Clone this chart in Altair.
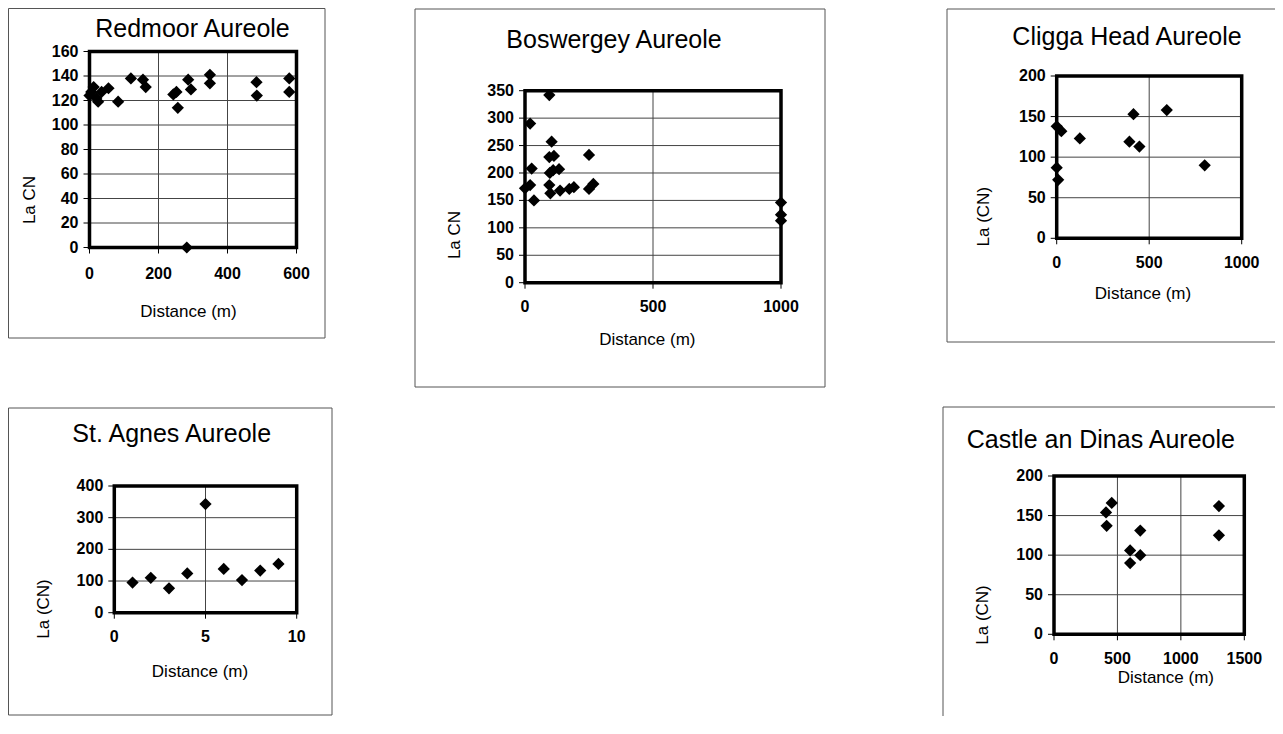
import altair as alt
import pandas as pd

W, H = 1267, 708
FONT = "Liberation Sans"

# ---------------- data ----------------
red_x = [0, 5, 12, 20, 25, 35, 55, 83, 120, 155, 163, 243, 252, 256, 282, 286, 294, 349, 349, 484, 485, 579, 579]
red_y = [124, 127, 131, 122, 119, 127, 130, 119, 138, 137, 131, 125, 127, 114, 0, 137, 129, 141, 134, 135, 124, 138, 127]

bos_x = [0, 20, 95, 20, 26, 35, 104, 95, 113, 97, 110, 133, 95, 99, 137, 173, 191, 250, 250, 267, 1000, 1000, 1000]
bos_y = [172, 178, 342, 290, 208, 150, 257, 229, 231, 200, 205, 207, 178, 163, 168, 171, 174, 233, 171, 180, 146, 124, 113]

cli_x = [0, 25, 125, 0, 8, 415, 393, 447, 595, 800]
cli_y = [138, 132, 123, 87, 72, 153, 119, 113, 158, 90]

sta_x = [1, 2, 3, 4, 5, 6, 7, 8, 9]
sta_y = [95, 110, 77, 124, 343, 138, 103, 133, 154]

cas_x = [410, 455, 415, 680, 600, 680, 600, 1300, 1300]
cas_y = [154, 166, 137, 131, 106, 100, 90, 162, 125]

red_xticks = [0, 200, 400, 600]
red_yticks = [0, 20, 40, 60, 80, 100, 120, 140, 160]
bos_xticks = [0, 500, 1000]
bos_yticks = [0, 50, 100, 150, 200, 250, 300, 350]
cli_xticks = [0, 500, 1000]
cli_yticks = [0, 50, 100, 150, 200]
sta_xticks = [0, 5, 10]
sta_yticks = [0, 100, 200, 300, 400]
cas_xticks = [0, 500, 1000, 1500]
cas_yticks = [0, 50, 100, 150, 200]

GRID = "#444"
BOX = "#555"


def panel(xs, ys, xdom, ydom, xticks, yticks, xr, yr, title, tpos,
          xtitle, xtpos, ytitle, ytpos, outer, xlab_off=29.5):
    xsc = alt.Scale(domain=xdom, range=xr, nice=False, zero=False)
    ysc = alt.Scale(domain=ydom, range=yr, nice=False, zero=False)
    X = lambda f: alt.X(f, type="quantitative", scale=xsc, axis=None)
    Y = lambda f: alt.Y(f, type="quantitative", scale=ysc, axis=None)
    one = pd.DataFrame({"k": [0]})

    box = alt.Chart(one).mark_rect(filled=False, stroke=BOX, strokeWidth=1).encode(
        x=alt.value(outer[0]), x2=alt.value(outer[1]),
        y=alt.value(outer[2]), y2=alt.value(outer[3]))

    vdf = pd.DataFrame({"x": xticks, "y0": ydom[0], "y1": ydom[1]})
    hdf = pd.DataFrame({"y": yticks, "x0": xdom[0], "x1": xdom[1]})
    vgrid = alt.Chart(vdf).mark_rule(color=GRID, strokeWidth=1).encode(
        x=X("x"), y=Y("y0"), y2="y1")
    hgrid = alt.Chart(hdf).mark_rule(color=GRID, strokeWidth=1).encode(
        y=Y("y"), x=X("x0"), x2="x1")

    frame_df = pd.DataFrame({"x": [xdom[0]], "x2": [xdom[1]],
                             "y": [ydom[0]], "y2": [ydom[1]]})
    frame = alt.Chart(frame_df).mark_rect(
        filled=False, stroke="black", strokeWidth=3.5).encode(
        x=X("x"), x2="x2", y=Y("y"), y2="y2")

    xt = pd.DataFrame({"x": xticks, "label": [str(v) for v in xticks]})
    yt = pd.DataFrame({"y": yticks, "label": [str(v) for v in yticks]})
    xtick = alt.Chart(xt).mark_rule(color="black", strokeWidth=1).encode(
        x=X("x"), y=alt.value(yr[0]), y2=alt.value(yr[0] + 6))
    ytick = alt.Chart(yt).mark_rule(color="black", strokeWidth=1).encode(
        y=Y("y"), x=alt.value(xr[0] - 6), x2=alt.value(xr[0]))
    xlab = alt.Chart(xt).mark_text(
        font=FONT, fontSize=16, fontWeight="bold", color="black",
        align="center", baseline="alphabetic").encode(
        x=X("x"), y=alt.value(yr[0] + xlab_off), text="label:N")
    ylab = alt.Chart(yt).mark_text(
        font=FONT, fontSize=16, fontWeight="bold", color="black",
        align="right", baseline="middle").encode(
        y=Y("y"), x=alt.value(xr[0] - 11), text="label:N")

    pts = pd.DataFrame({"x": xs, "y": ys})
    points = alt.Chart(pts).mark_point(
        shape="diamond", filled=True, size=150, color="black", opacity=1
    ).encode(x=X("x"), y=Y("y"))

    ttl = alt.Chart(one).mark_text(
        text=title, font=FONT, fontSize=25, color="black",
        align="center", baseline="alphabetic"
    ).encode(x=alt.value(tpos[0]), y=alt.value(tpos[1]))
    xttl = alt.Chart(one).mark_text(
        text=xtitle, font=FONT, fontSize=17, color="black",
        align="center", baseline="alphabetic"
    ).encode(x=alt.value(xtpos[0]), y=alt.value(xtpos[1]))
    yttl = alt.Chart(one).mark_text(
        text=ytitle, font=FONT, fontSize=17, color="black", angle=270,
        align="center", baseline="alphabetic"
    ).encode(x=alt.value(ytpos[0]), y=alt.value(ytpos[1]))

    return alt.layer(box, vgrid, hgrid, xtick, ytick, frame, xlab, ylab,
                     points, ttl, xttl, yttl)


p1 = panel(red_x, red_y, [0, 600], [0, 160], red_xticks, red_yticks,
           [81.5, 288.5], [239.5, 43.5], "Redmoor Aureole", (184.5, 29),
           "Distance (m)", (180.5, 308.7), "La CN", (27, 192),
           (0.5, 317, 0.5, 330), xlab_off=31.5)
p2 = panel(bos_x, bos_y, [0, 1000], [0, 350], bos_xticks, bos_yticks,
           [517, 773], [274.7, 82.7], "Boswergey Aureole", (606, 39.7),
           "Distance (m)", (639.3, 337), "La CN", (452, 227),
           (407, 817, 1, 379))
p3 = panel(cli_x, cli_y, [0, 1000], [0, 200], cli_xticks, cli_yticks,
           [1048.7, 1233.7], [230.3, 68], "Cligga Head Aureole", (1119, 37),
           "Distance (m)", (1135, 291.3), "La (CN)", (981, 208.7),
           (939, 1300, 1, 334))
p4 = panel(sta_x, sta_y, [0, 10], [0, 400], sta_xticks, sta_yticks,
           [106.3, 288.7], [604.7, 478], "St. Agnes Aureole", (163.7, 433.7),
           "Distance (m)", (192, 669.3), "La (CN)", (41.3, 601),
           (0.5, 324, 400, 707))
p5 = panel(cas_x, cas_y, [0, 1500], [0, 200], cas_xticks, cas_yticks,
           [1046, 1236.3], [626.3, 468], "Castle an Dinas Aureole", (1092.8, 439.7),
           "Distance (m)", (1157.8, 674.7), "La (CN)", (979.7, 607),
           (935, 1300, 399, 740))

chart = alt.layer(p1, p2, p3, p4, p5).resolve_scale(
    x="independent", y="independent"
).properties(
    width=W, height=H, padding=0,
    autosize=alt.AutoSizeParams(type="none"),
    background="white",
).configure_view(strokeWidth=0)

chart.save("out.html", embed_options={"renderer": "svg", "actions": False})
